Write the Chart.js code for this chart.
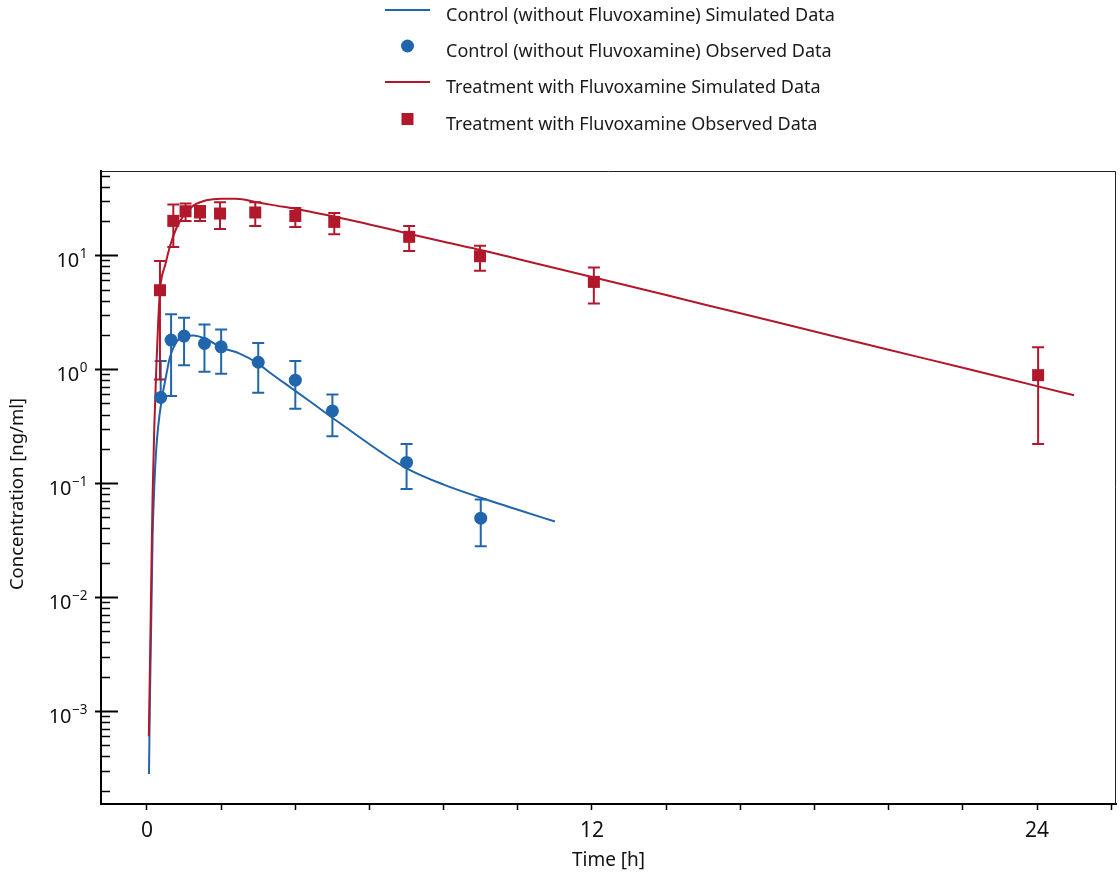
<!DOCTYPE html>
<html><head><meta charset="utf-8">
<script src="https://cdn.jsdelivr.net/npm/chart.js@4.4.0/dist/chart.umd.min.js"></script>
<style>html,body{margin:0;padding:0;background:#fff;}#wrap{width:1120px;height:878px;position:relative;}</style>
</head><body><div id="wrap"><canvas id="c" width="1120" height="878"></canvas></div>
<script>
// ---- data ----
const ctrlSimT = [0.054, 0.08, 0.1, 0.125, 0.15, 0.2, 0.25, 0.3, 0.4, 0.5, 0.62, 0.8, 1.0, 1.25, 1.6, 2.0, 2.5, 3.0, 3.3, 4.0, 5.0, 6.3, 7.0, 8.0, 9.0, 10.0, 11.0];
const ctrlSimC = [0.00028, 0.0013, 0.0032, 0.0098, 0.032, 0.098, 0.20, 0.31, 0.55, 0.82, 1.28, 1.74, 1.94, 1.97, 1.83, 1.55, 1.37, 1.12, 0.94, 0.645, 0.375, 0.188, 0.135, 0.097, 0.0745, 0.0585, 0.046];
const ctrlObsT = [0.37, 0.65, 1.0, 1.55, 2.0, 3.0, 4.0, 5.0, 7.0, 9.0];
const ctrlObsC = [0.565, 1.80, 1.95, 1.68, 1.57, 1.15, 0.80, 0.43, 0.152, 0.0493];
const ctrlObsLo = [null, 0.583, 1.08, 0.95, 0.91, 0.62, 0.45, 0.258, 0.089, 0.028];
const ctrlObsHi = [1.18, 3.04, 2.82, 2.47, 2.23, 1.70, 1.18, 0.60, 0.221, 0.072];

const trtSimT = [0.05, 0.1, 0.15, 0.2, 0.25, 0.3, 0.35, 0.5, 0.62, 0.8, 1.0, 1.25, 1.6, 2.0, 2.4, 3.0, 3.4, 4.1, 5.5, 6.3, 7, 8, 9, 10, 11, 12, 14, 16, 18, 20, 22, 24, 25];
const trtSimC = [0.0006, 0.0066, 0.074, 0.33, 1.0, 2.5, 4.9, 8.4, 12.0, 17.5, 22.6, 27.2, 30.3, 31.3, 31.3, 29.0, 27.5, 25.2, 20.3, 17.7, 15.6, 13.1, 11.1, 9.25, 7.73, 6.45, 4.47, 3.09, 2.14, 1.48, 1.03, 0.71, 0.59];
const trtObsT = [0.35, 0.71, 1.04, 1.43, 1.97, 2.92, 4.0, 5.05, 7.07, 8.98, 12.05, 24.03];
const trtObsC = [4.93, 20.0, 24.3, 23.7, 23.2, 23.7, 22.1, 19.6, 14.5, 9.8, 5.83, 0.886];
const trtObsLo = [0.81, 11.8, 20.0, 20.0, 17.0, 18.0, 17.7, 15.3, 10.9, 7.3, 3.77, 0.22];
const trtObsHi = [8.9, 27.8, 28.4, 27.0, 29.2, 29.2, 26.0, 23.5, 18.0, 12.1, 7.8, 1.56];

const xTicks = [0, 2, 4, 6, 8, 10, 12, 14, 16, 18, 20, 22, 24, 26];
const xLabelTicks = [0, 12, 24];
const yMajorTicks = [0.001, 0.01, 0.1, 1, 10];
const yExponents = ['\u22123', '\u22122', '\u22121', '0', '1'];
const xTitle = 'Time [h]';
const yTitle = 'Concentration [ng/ml]';

const seriesNames = [
  'Control (without Fluvoxamine) Simulated Data',
  'Control (without Fluvoxamine) Observed Data',
  'Treatment with Fluvoxamine Simulated Data',
  'Treatment with Fluvoxamine Observed Data'
];

const BLUE = '#2166ac';
const RED = '#b2182b';
const FONT = '"Noto Sans", "Open Sans", sans-serif';

const pts = (T, C) => T.map((t, i) => ({x: t, y: C[i]}));

Chart.defaults.font.family = FONT;
Chart.defaults.color = '#111';

const errorBars = {
  id: 'errorBars',
  beforeDatasetsDraw(chart) {
    const {ctx, scales: {x, y}} = chart;
    const draw = (T, C, lo, hi, color) => {
      ctx.save();
      ctx.strokeStyle = color;
      ctx.lineWidth = 2;
      for (let i = 0; i < T.length; i++) {
        const px = x.getPixelForValue(T[i]);
        const yc = y.getPixelForValue(C[i]);
        const yh = hi[i] == null ? yc : y.getPixelForValue(hi[i]);
        const yl = lo[i] == null ? yc : y.getPixelForValue(lo[i]);
        ctx.beginPath();
        ctx.moveTo(px, yl); ctx.lineTo(px, yh);
        if (hi[i] != null) { ctx.moveTo(px - 6, yh); ctx.lineTo(px + 6, yh); }
        if (lo[i] != null) { ctx.moveTo(px - 6, yl); ctx.lineTo(px + 6, yl); }
        ctx.stroke();
      }
      ctx.restore();
    };
    draw(ctrlObsT, ctrlObsC, ctrlObsLo, ctrlObsHi, BLUE);
    draw(trtObsT, trtObsC, trtObsLo, trtObsHi, RED);
  }
};

const frame = {
  id: 'frame',
  afterDraw(chart) {
    const {ctx, chartArea: a, scales: {y}} = chart;
    ctx.save();
    ctx.strokeStyle = '#222';
    ctx.lineWidth = 1;
    ctx.beginPath();
    ctx.moveTo(a.left, a.top + 0.5); ctx.lineTo(a.right - 0.5, a.top + 0.5); ctx.lineTo(a.right - 0.5, a.bottom);
    ctx.stroke();
    ctx.strokeStyle = '#000';
    for (let d = -4; d <= 1; d++) {
      for (let m = 1; m <= 9; m++) {
        const v = m * Math.pow(10, d);
        if (v < y.min || v > y.max) continue;
        const py = Math.round(y.getPixelForValue(v)) + 0.5;
        ctx.beginPath();
        if (m === 1) { ctx.lineWidth = 2; ctx.moveTo(a.left - 6, py); ctx.lineTo(a.left + 17, py); }
        else { ctx.lineWidth = 1.5; ctx.moveTo(a.left, py); ctx.lineTo(a.left + 9, py); }
        ctx.stroke();
      }
    }
    // y tick labels: 10 with superscript exponent
    ctx.fillStyle = '#111';
    ctx.textBaseline = 'alphabetic';
    ctx.textAlign = 'left';
    yMajorTicks.forEach((v, i) => {
      const py = y.getPixelForValue(v);
      ctx.font = '13.5px ' + FONT;
      const ws = ctx.measureText(yExponents[i]).width;
      ctx.font = '20px ' + FONT;
      const wb = ctx.measureText('10').width;
      const x0 = 87 - ws - wb;
      ctx.fillText('10', x0, py + 11.5);
      ctx.font = '13.5px ' + FONT;
      ctx.fillText(yExponents[i], x0 + wb + 0.5, py + 3);
    });
    // y axis title
    ctx.save();
    ctx.translate(18, 494);
    ctx.rotate(-Math.PI / 2);
    ctx.font = '18.5px ' + FONT;
    ctx.textAlign = 'center';
    ctx.textBaseline = 'middle';
    ctx.fillText(yTitle, 0, 0);
    ctx.restore();
    ctx.restore();
  }
};

const legendRows = [
  {type: 'line', color: BLUE, y: 16},
  {type: 'circle', color: BLUE, y: 52},
  {type: 'line', color: RED, y: 88},
  {type: 'rect', color: RED, y: 125}
];
const customLegend = {
  id: 'customLegend',
  afterDraw(chart) {
    const {ctx} = chart;
    ctx.save();
    ctx.font = '18px ' + FONT;
    ctx.textBaseline = 'middle';
    ctx.textAlign = 'left';
    legendRows.forEach((r, i) => {
      const sy = r.y - 6;
      ctx.fillStyle = r.color; ctx.strokeStyle = r.color;
      if (r.type === 'line') {
        ctx.lineWidth = 2;
        ctx.beginPath(); ctx.moveTo(385, sy); ctx.lineTo(430, sy); ctx.stroke();
      } else if (r.type === 'circle') {
        ctx.beginPath(); ctx.arc(407.5, sy, 6.5, 0, Math.PI * 2); ctx.fill();
      } else {
        ctx.fillRect(401.5, sy - 6, 12, 12);
      }
      ctx.fillStyle = '#1a1a1a';
      ctx.fillText(seriesNames[i], 446, r.y);
    });
    ctx.restore();
  }
};

new Chart(document.getElementById('c'), {
  type: 'scatter',
  data: {
    datasets: [
      {label: seriesNames[0], type: 'line', data: pts(ctrlSimT, ctrlSimC), borderColor: BLUE, borderWidth: 2,
       pointRadius: 0, cubicInterpolationMode: 'monotone', fill: false, order: 3},
      {label: seriesNames[1], data: pts(ctrlObsT, ctrlObsC), backgroundColor: BLUE, borderColor: BLUE,
       pointStyle: 'circle', pointRadius: 6.5, borderWidth: 0, order: 1},
      {label: seriesNames[2], type: 'line', data: pts(trtSimT, trtSimC), borderColor: RED, borderWidth: 2,
       pointRadius: 0, cubicInterpolationMode: 'monotone', fill: false, order: 2},
      {label: seriesNames[3], data: pts(trtObsT, trtObsC), backgroundColor: RED, borderColor: RED,
       pointStyle: 'rect', pointRadius: 8.5, borderWidth: 0, order: 0}
    ]
  },
  options: {
    responsive: false,
    animation: false,
    layout: {autoPadding: false, padding: {top: 171, right: 4, left: 0, bottom: 0}},
    plugins: {legend: {display: false}, tooltip: {enabled: false}},
    scales: {
      x: {
        type: 'linear', min: -1.24, max: 26.13,
        afterBuildTicks: s => { s.ticks = xTicks.map(v => ({value: v})); },
        afterFit: s => { s.height = 74; s.paddingLeft = 0; s.paddingRight = 0; },
        ticks: {autoSkip: false, maxRotation: 0, padding: 8, font: {size: 21}, color: '#111',
          callback: v => (xLabelTicks.includes(v) ? String(v) : '')},
        grid: {display: true, drawOnChartArea: false, drawTicks: true, tickLength: 6, tickColor: '#000', tickWidth: 1.5},
        border: {display: true, color: '#000', width: 2},
        title: {display: true, text: xTitle, font: {size: 19}, color: '#111', padding: {top: 0, bottom: 6}}
      },
      y: {
        type: 'logarithmic', min: 1.53e-4, max: 54.8,
        afterBuildTicks: s => { s.ticks = yMajorTicks.map(v => ({value: v})); },
        afterFit: s => { s.width = 101; s.paddingTop = 0; s.paddingBottom = 0; },
        ticks: {autoSkip: false, padding: 14, font: {size: 19}, color: '#111', callback: () => ''},
        grid: {display: false, drawTicks: false},
        border: {display: true, color: '#000', width: 2},
        title: {display: false, text: yTitle}
      }
    }
  },
  plugins: [errorBars, frame, customLegend]
});
</script></body></html>
